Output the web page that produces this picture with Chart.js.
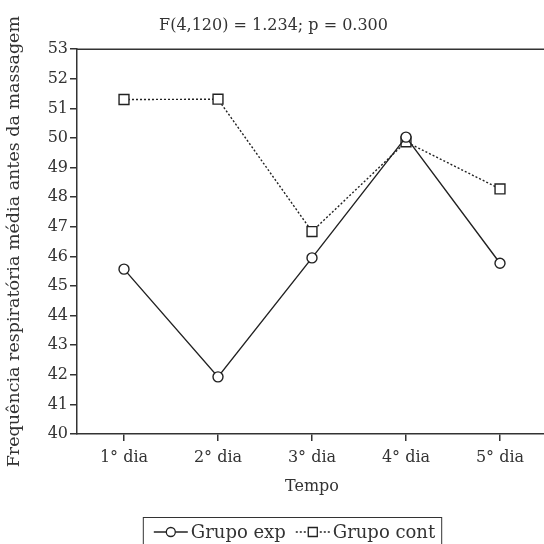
<!DOCTYPE html>
<html>
<head>
<meta charset="utf-8">
<script src="https://cdn.jsdelivr.net/npm/chart.js@4"></script>
<style>
  html, body { margin: 0; padding: 0; background: #fff; overflow: hidden; }
  #wrap { width: 552px; height: 544px; }
</style>
</head>
<body>
<div id="wrap"><canvas id="chart" width="552" height="544"></canvas></div>
<script>
const days = ['1° dia', '2° dia', '3° dia', '4° dia', '5° dia'];
const grupoExp = [45.57, 41.93, 45.95, 50.03, 45.77];
const grupoCont = [51.30, 51.31, 46.84, 49.87, 48.28];
const yMin = 40, yMax = 53, yStep = 1;

const FONT = "'DejaVu Serif', 'Liberation Serif', serif";
const INK = '#333';

// top border of the plot frame
const frame = {
  id: 'frame',
  afterDraw(chart) {
    const { ctx, chartArea: a } = chart;
    ctx.save();
    ctx.strokeStyle = INK;
    ctx.lineWidth = 1.5;
    ctx.beginPath();
    ctx.moveTo(a.left, a.top);
    ctx.lineTo(a.right, a.top);
    ctx.lineTo(a.right, a.bottom);
    ctx.stroke();
    ctx.restore();
  }
};

// boxed legend with line-marker-line symbols
const boxLegend = {
  id: 'boxLegend',
  afterDraw(chart) {
    const { ctx } = chart;
    const sets = chart.data.datasets;
    ctx.save();
    ctx.font = '18px ' + FONT;
    const symW = 34, gap = 3, sep = 10, padL = 11, padR = 6;
    let total = padL + padR;
    sets.forEach((ds, i) => {
      total += symW + gap + ctx.measureText(ds.label).width + (i < sets.length - 1 ? sep : 0);
    });
    const left = 292 - total / 2, top = 517, cy = 532;
    ctx.strokeStyle = INK;
    ctx.lineWidth = 1;
    ctx.strokeRect(left + 0.5, top + 0.5, total, 60);
    let x = left + padL;
    sets.forEach((ds, i) => {
      ctx.strokeStyle = ds.borderColor;
      ctx.lineWidth = 1.3;
      ctx.setLineDash(ds.borderDash || []);
      ctx.beginPath();
      ctx.moveTo(x, cy);
      ctx.lineTo(x + symW, cy);
      ctx.stroke();
      ctx.setLineDash([]);
      ctx.fillStyle = '#fff';
      const cx = x + symW / 2;
      ctx.beginPath();
      if (ds.pointStyle === 'rect') {
        ctx.rect(cx - 4.5, cy - 4.5, 9, 9);
      } else {
        ctx.arc(cx, cy, 4.5, 0, Math.PI * 2);
      }
      ctx.fill();
      ctx.stroke();
      x += symW + gap;
      ctx.fillStyle = INK;
      ctx.textBaseline = 'middle';
      ctx.fillText(ds.label, x, cy + 1);
      x += ctx.measureText(ds.label).width + sep;
    });
    ctx.restore();
  }
};

new Chart(document.getElementById('chart'), {
  type: 'line',
  data: {
    labels: days,
    datasets: [{
      label: 'Grupo exp',
      data: grupoExp,
      borderColor: '#222',
      borderWidth: 1.4,
      pointStyle: 'circle',
      pointRadius: 5,
      pointBackgroundColor: '#fff',
      pointBorderColor: '#222',
      pointBorderWidth: 1.4,
      tension: 0,
    }, {
      label: 'Grupo cont',
      data: grupoCont,
      borderColor: '#222',
      borderWidth: 1.4,
      borderDash: [2, 2],
      pointStyle: 'rect',
      pointRadius: 7,
      pointBackgroundColor: '#fff',
      pointBorderColor: '#222',
      pointBorderWidth: 1.4,
      tension: 0,
    }],
  },
  options: {
    responsive: false,
    animation: false,
    layout: { autoPadding: false, padding: { left: 0, right: 5, top: 0, bottom: 48 } },
    plugins: {
      legend: { display: false },
      tooltip: { enabled: false },
      title: {
        display: true,
        text: 'F(4,120) = 1.234; p = 0.300',
        color: INK,
        font: { family: FONT, size: 16, weight: 'normal' },
        padding: { top: 16, bottom: 14 },
      },
    },
    scales: {
      x: {
        offset: true,
        grid: { display: true, drawOnChartArea: false, color: INK, tickLength: 7, lineWidth: 1.5 },
        border: { color: INK, width: 1.5 },
        ticks: { color: INK, font: { family: FONT, size: 16 }, padding: 7, maxRotation: 0 },
        title: {
          display: true,
          text: 'Tempo',
          color: INK,
          font: { family: FONT, size: 16 },
          padding: { top: 4, bottom: 0 },
        },
        afterFit(scale) { scale.height = 62; },
      },
      y: {
        min: yMin,
        max: yMax,
        grid: { display: true, drawOnChartArea: false, color: INK, tickLength: 7, lineWidth: 1.5 },
        border: { color: INK, width: 1.5 },
        ticks: { stepSize: yStep, color: INK, font: { family: FONT, size: 16 }, padding: 2 },
        title: {
          display: true,
          text: 'Frequência respiratória média antes da massagem',
          color: INK,
          font: { family: FONT, size: 17.5 },
          padding: { top: 4, bottom: 0 },
        },
        afterFit(scale) { scale.width = 77; },
      },
    },
  },
  plugins: [frame, boxLegend],
});
</script>
</body>
</html>
